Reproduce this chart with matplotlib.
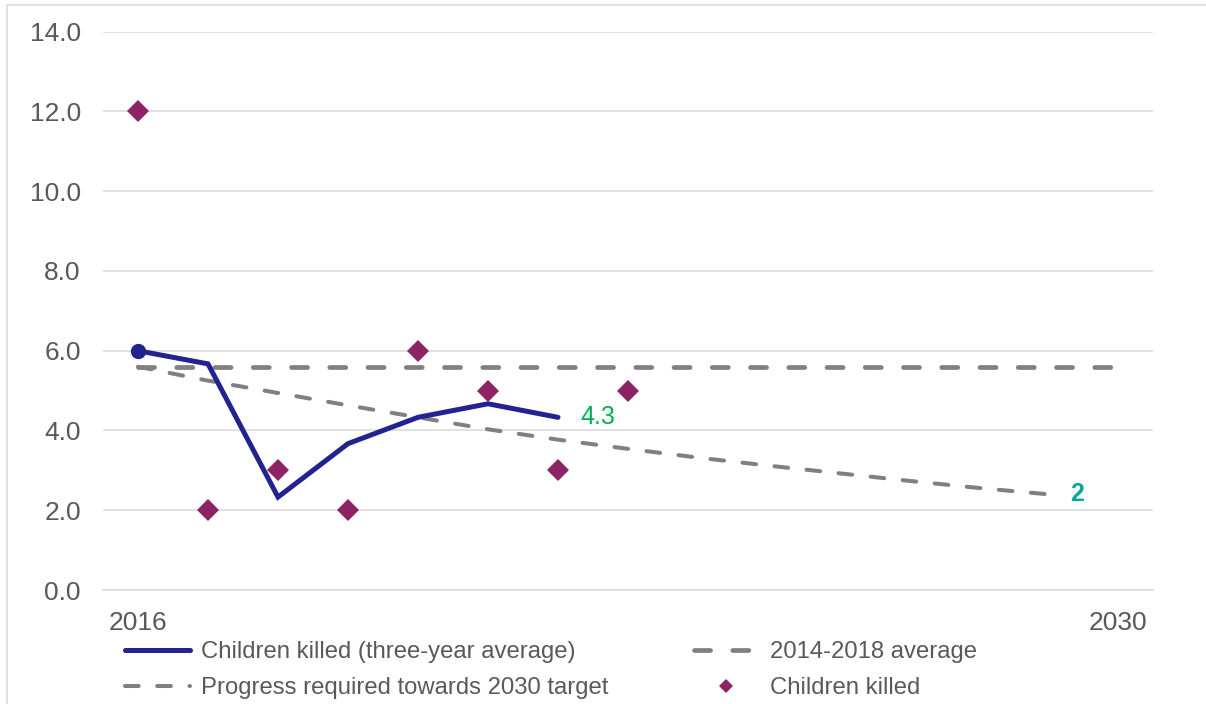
import matplotlib
matplotlib.use("Agg")
import matplotlib.pyplot as plt
from matplotlib.patches import Rectangle

plt.rcParams['font.family'] = ['Liberation Sans', 'DejaVu Sans']

# Years on the category axis
years = list(range(2016, 2031))
tick_years = [2016, 2030]

# Children killed each year
killed_years = [2016, 2017, 2018, 2019, 2020, 2021, 2022, 2023]
killed = [12, 2, 3, 2, 6, 5, 3, 5]

# Three-year rolling average
avg_years = [2016, 2017, 2018, 2019, 2020, 2021, 2022]
avg3 = [6.0, 5.67, 2.33, 3.67, 4.33, 4.67, 4.33]

# 2014-2018 baseline average, held flat to 2030
baseline_years = [2016, 2030]
baseline = [5.6, 5.6]

# Trajectory required to meet the 2030 target
progress_years = list(range(2016, 2030))
progress = [5.6, 5.25, 4.94, 4.63, 4.33, 4.03, 3.77, 3.54, 3.32, 3.12,
            2.93, 2.74, 2.56, 2.40]
target_2030 = 2

BLUE = '#222290'
GREY = '#808080'
PLUM = '#8C2364'
GRID = '#D9D9D9'
TEXT = '#595959'

W, H = 1206, 704
fig = plt.figure(figsize=(W / 100, H / 100), dpi=100)
ax = fig.add_axes([103 / W, 1 - 590 / H, 1050 / W, (590 - 31.7) / H])

ax.set_xlim(years[0] - 0.5, years[-1] + 0.5)
ax.set_ylim(0, 14)
ax.set_yticks([0, 2, 4, 6, 8, 10, 12, 14])
ax.set_yticklabels([f"{v:.1f}" for v in ax.get_yticks()])
ax.set_xticks(tick_years)
ax.set_xticklabels([str(y) for y in tick_years])
ax.tick_params(axis='both', length=0, labelsize=19, labelcolor=TEXT)
ax.tick_params(axis='y', pad=16)
ax.tick_params(axis='x', pad=15)
ax.grid(axis='y', color=GRID, linewidth=1.1)
ax.set_axisbelow(True)
for s in ['top', 'right', 'left']:
    ax.spines[s].set_visible(False)
ax.spines['bottom'].set_color(GRID)
ax.spines['bottom'].set_linewidth(1.1)

ln_base, = ax.plot(baseline_years, baseline, color=GREY, lw=3.4,
                   linestyle=(0, (3.4, 4.7)), dash_capstyle='round',
                   label='2014-2018 average', zorder=2)
ln_prog, = ax.plot(progress_years, progress, color=GREY, lw=2.9,
                   linestyle=(0, (3.4, 4.6)), dash_capstyle='round',
                   label='Progress required towards 2030 target', zorder=2)
ln_avg, = ax.plot(avg_years, avg3, color=BLUE, lw=3.6,
                  solid_capstyle='round', solid_joinstyle='miter',
                  label='Children killed (three-year average)', zorder=3)
ax.plot(avg_years[:1], avg3[:1], 'o', color=BLUE, ms=10, zorder=3)
sc_killed, = ax.plot(killed_years, killed, 'D', color=PLUM, ms=10.8, mew=0,
                     linestyle='none', label='Children killed', zorder=4)

ax.annotate(f"{avg3[-1]:.1f}", (avg_years[-1], avg3[-1]),
            xytext=(16, 0), textcoords='offset points',
            ha='left', va='center', fontsize=18, color='#00B050')
ax.annotate(f"{target_2030}", (progress_years[-1], progress[-1]),
            xytext=(16, 0), textcoords='offset points',
            ha='left', va='center', fontsize=18, fontweight='bold',
            color='#00A99D')

fig.legend(handles=[ln_avg, ln_prog, ln_base, sc_killed], ncol=2,
           loc='upper left', bbox_to_anchor=(125 / W, 1 - 641 / H),
           frameon=False, fontsize=17.2, labelcolor=TEXT,
           handlelength=2.7, handletextpad=0.5, columnspacing=3.55,
           labelspacing=0.6, borderpad=0, borderaxespad=0,
           markerscale=0.62)

# Light outer frame
fig.patches.append(Rectangle((7 / W, -0.05), 1.1, 1.05 - 5.3 / H,
                             transform=fig.transFigure, fill=False,
                             edgecolor=GRID, linewidth=1.1))

fig.savefig('out.png', dpi=100)
